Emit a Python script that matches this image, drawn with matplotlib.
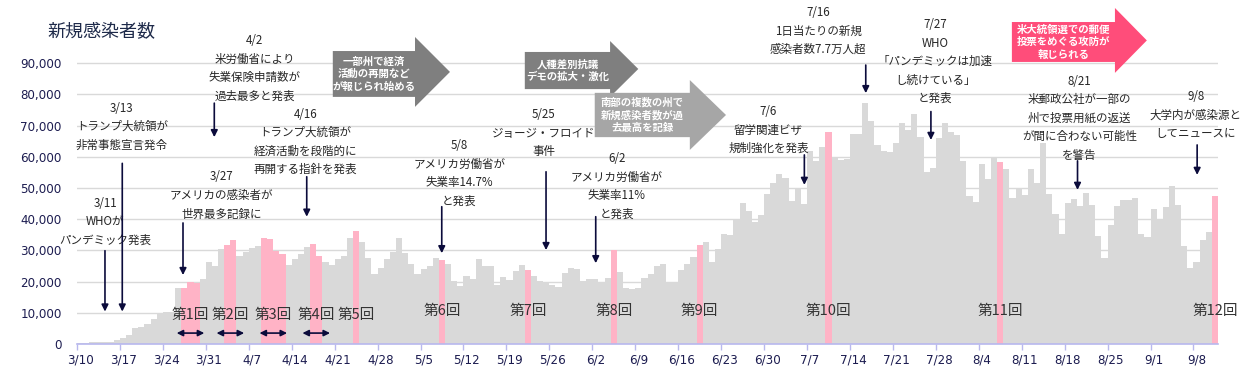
import datetime as dt
import numpy as np
import matplotlib
matplotlib.use('Agg')
import matplotlib.pyplot as plt
from matplotlib.patches import Polygon

plt.rcParams['font.family'] = ['Noto Sans CJK JP', 'DejaVu Sans']

# daily new cases from 3/10
start = dt.date(2020, 3, 10)
cases = [
    300, 350, 550, 600, 650, 700, 1300, 1900, 2900, 5100,
    5600, 6400, 7900, 9900, 10100, 10300, 17800, 18000, 20000, 19400,
    20800, 26300, 25000, 30400, 31800, 33200, 28200, 29600, 30800, 31400,
    33900, 33700, 29900, 28800, 25300, 27200, 28800, 31100, 32200, 28200,
    26300, 25300, 27200, 28200, 34000, 36200, 32700, 27600, 22400, 24400,
    27200, 29600, 34000, 29300, 25700, 22400, 24000, 25100, 27600, 26900,
    25600, 20200, 18600, 21800, 20800, 27200, 25000, 25000, 18900, 21500,
    20500, 23400, 25300, 23700, 21800, 20200, 19900, 18900, 18300, 22800,
    24400, 24000, 20200, 20800, 20800, 19600, 21200, 30000, 23100, 17900,
    17600, 17900, 21200, 22400, 25100, 25600, 20000, 19800, 23700, 25600,
    28000, 31700, 32700, 26300, 30400, 35300, 34900, 39700, 45100, 42600,
    39100, 41300, 48100, 51600, 54500, 53200, 45800, 50100, 44900, 62000,
    58800, 63100, 67900, 60000, 59000, 59300, 67300, 67300, 77400, 71500,
    63800, 61900, 61500, 64400, 70800, 68600, 73700, 66300, 55200, 56400,
    66000, 70800, 67900, 67000, 58700, 47400, 45500, 57700, 52900, 59600,
    58300, 56100, 46800, 49700, 47800, 56100, 51600, 64300, 48100, 41700,
    35300, 45200, 46500, 44200, 48400, 44600, 34600, 27600, 38100, 44200,
    46200, 46200, 46800, 35300, 34300, 43300, 40100, 43900, 50600, 44600,
    31400, 24400, 26300, 33300, 35900, 47400,
]

# highlighted periods
round_labels = ['第1回', '第2回', '第3回', '第4回', '第5回', '第6回',
                '第7回', '第8回', '第9回', '第10回', '第11回', '第12回']
round_start = ['3/27', '4/3', '4/9', '4/17', '4/24', '5/8',
               '5/22', '6/5', '6/19', '7/10', '8/7', '9/11']
round_end = ['3/29', '4/4', '4/12', '4/18', '4/24', '5/8',
             '5/22', '6/5', '6/19', '7/10', '8/7', '9/11']

# event annotations
event_texts = [
    '3/11\nWHOが\nパンデミック発表',
    '3/13\nトランプ大統領が\n非常事態宣言発令',
    '4/2\n米労働省により\n失業保険申請数が\n過去最多と発表',
    '3/27\nアメリカの感染者が\n世界最多記録に',
    '4/16\nトランプ大統領が\n経済活動を段階的に\n再開する指針を発表',
    '5/8\nアメリカ労働省が\n失業率14.7%\nと発表',
    '5/25\nジョージ・フロイド\n事件',
    '6/2\nアメリカ労働省が\n失業率11%\nと発表',
    '7/6\n留学関連ビザ\n規制強化を発表',
    '7/16\n1日当たりの新規\n感染者数7.7万人超',
    '7/27\nWHO\n「パンデミックは加速\nし続けている」\nと発表',
    '8/21\n米郵政公社が一部の\n州で投票用紙の返送\nが間に合わない可能性\nを警告',
    '9/8\n大学内が感染源と\nしてニュースに',
]
# text centre (day, value), arrow x, arrow tail, arrow tip
text_pos = [(4.6, 39200), (7.3, 69700), (29.0, 88400), (23.6, 47600),
            (37.2, 64800), (62.3, 54600), (76.1, 67500), (88.0, 50600),
            (112.7, 68600), (120.8, 100300), (139.9, 90500), (163.4, 72300),
            (182.4, 73400)]
arrow_x = [4.56, 7.38, 22.38, 17.28, 37.45, 59.46, 76.46, 84.56,
           118.57, 128.58, 139.2, 163.1, 182.6]
arrow_tail = [29900, 57900, 77200, 38800, 53600, 44000, 55200, 40800,
              60600, 89400, 74500, 58700, 63800]
arrow_tip = [10400, 10400, 66300, 22100, 40800, 29100, 30100, 25900,
             51000, 80400, 65400, 49400, 54200]

# block arrows: text, colour, x0, x1, x2, body y0, body y1, head y0, head y1
block_texts = ['一部州で経済\n活動の再開など\nが報じられ始める',
               '人種差別抗議\nデモの拡大・激化',
               '南部の複数の州で\n新規感染者数が過\n去最高を記録',
               '米大統領選での郵便\n投票をめぐる攻防が\n報じられる']
block_colors = ['#7f7f7f', '#7f7f7f', '#a6a6a6', '#ff4d7a']
block_geom = [(41.7, 55.1, 60.8, 79200, 93900, 76000, 98400),
              (73.0, 86.9, 91.5, 81700, 93600, 79200, 97100),
              (84.4, 99.9, 105.8, 66300, 80500, 62200, 84600),
              (152.4, 169.2, 174.4, 90400, 103200, 86900, 107700)]


def day_index(s):
    m, d = map(int, s.split('/'))
    return (dt.date(2020, m, d) - start).days


days = np.arange(len(cases))
pink = np.zeros(len(cases), dtype=bool)
for s, e in zip(round_start, round_end):
    pink[day_index(s):day_index(e) + 1] = True
colors = np.where(pink, '#ffb3c6', '#d9d9d9')

fig = plt.figure(figsize=(12.49, 3.75), dpi=100)
ax = fig.add_axes([77 / 1249, 31 / 375, 1141 / 1249, 312 / 375])
ax.bar(days, cases, width=1.0, align='edge', color=colors, linewidth=0, zorder=2)
ax.set_xlim(0, len(cases))
ax.set_ylim(0, 100000)

ax.set_yticks(range(0, 90001, 10000))
ax.set_yticklabels([f'{v:,}' for v in range(0, 90001, 10000)],
                   fontfamily='DejaVu Sans')
ax.yaxis.grid(True, color='#d9d9d9', lw=1)
ax.set_axisbelow(True)
ax.tick_params(axis='y', length=0, pad=11, labelsize=8.6, labelcolor='#1c1c50')

week = np.arange(0, len(cases), 7)
ax.set_xticks(week + 0.5)
ax.set_xticklabels([f'{(start + dt.timedelta(int(i))).month}/{(start + dt.timedelta(int(i))).day}'
                    for i in week], fontfamily='DejaVu Sans')
ax.set_xticks(week, minor=True)
ax.tick_params(axis='x', which='major', length=0, pad=7, labelsize=8.6,
               labelcolor='#1c1c50')
ax.tick_params(axis='x', which='minor', length=4, width=1, color='#b8b8ee')
for side in ['left', 'top', 'right']:
    ax.spines[side].set_visible(False)
ax.spines['bottom'].set_color('#b8b8ee')
ax.spines['bottom'].set_linewidth(1.2)

navy = '#0b0b3b'

# round labels
for k, (lab, s, e) in enumerate(zip(round_labels, round_start, round_end)):
    c = (day_index(s) + day_index(e) + 1) / 2
    y = 9300 if k < 5 else 10600
    ax.text(c, y, lab, ha='center', va='center', fontsize=10.5,
            color='#333333', zorder=5, clip_on=False)
    if k < 4:
        ax.annotate('', xy=(c - 2.25, 3500), xytext=(c + 2.25, 3500),
                    arrowprops=dict(arrowstyle='<|-|>', color=navy, lw=1.2,
                                    mutation_scale=9, shrinkA=0, shrinkB=0),
                    zorder=5)

# events
for txt, (tx, ty), axx, a0, a1 in zip(event_texts, text_pos, arrow_x,
                                      arrow_tail, arrow_tip):
    ax.text(tx, ty, txt, ha='center', va='center', fontsize=8.3,
            linespacing=1.55, color='#262626', zorder=6, clip_on=False)
    ax.annotate('', xy=(axx, a1), xytext=(axx, a0),
                arrowprops=dict(arrowstyle='-|>', color=navy, lw=1.2,
                                mutation_scale=10, shrinkA=0, shrinkB=0),
                zorder=6, annotation_clip=False)

# block arrows
for txt, col, (x0, x1, x2, b0, b1, h0, h1) in zip(block_texts, block_colors,
                                                  block_geom):
    verts = [(x0, b0), (x0, b1), (x1, b1), (x1, h1), (x2, (h0 + h1) / 2),
             (x1, h0), (x1, b0)]
    ax.add_patch(Polygon(verts, closed=True, facecolor=col, edgecolor='none',
                         clip_on=False, zorder=7))
    ax.text((x0 + x1) / 2, (b0 + b1) / 2, txt, ha='center', va='center',
            fontsize=7.5, fontweight='bold', color='white', linespacing=1.3,
            zorder=8, clip_on=False)

fig.text(47 / 1249, 1 - 32 / 375, '新規感染者数', fontsize=13, ha='left',
         va='center', color='#1e2a4a')

fig.savefig('out.png', dpi=100)
